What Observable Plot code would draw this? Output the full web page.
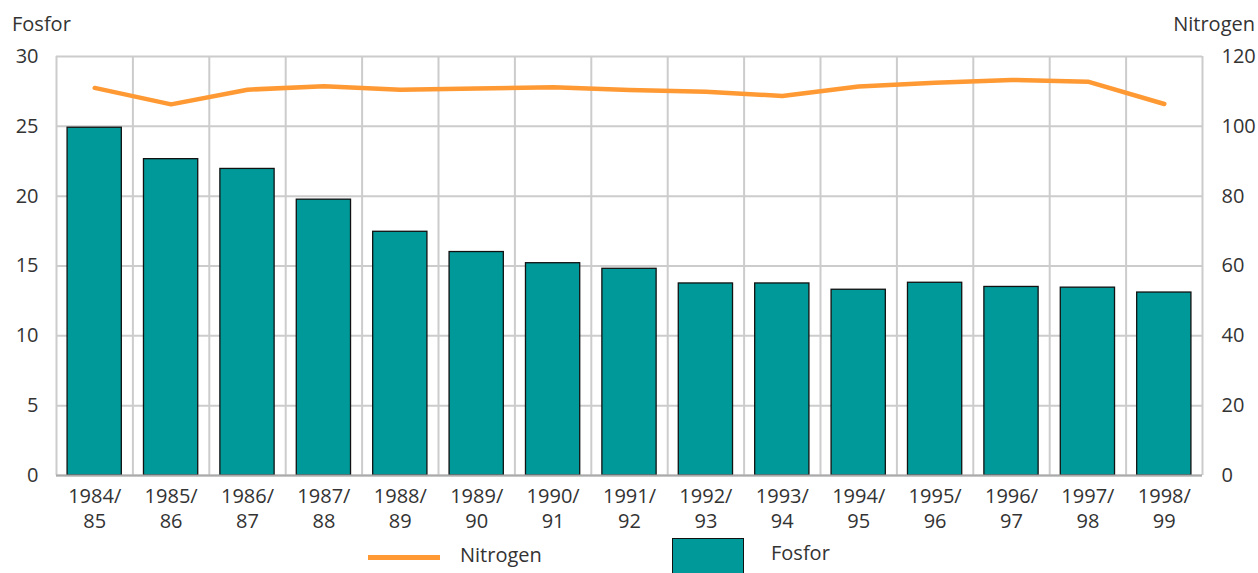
<!DOCTYPE html>
<html>
<head>
<meta charset="utf-8">
<script src="https://cdn.jsdelivr.net/npm/d3@7"></script>
<script src="https://cdn.jsdelivr.net/npm/@observablehq/plot@0.6"></script>
<style>
  html, body { margin: 0; padding: 0; background: #fff; }
  #wrap { position: relative; width: 1258px; height: 573px; overflow: hidden; font-family: "Open Sans", sans-serif; color: #333; }
  .t { position: absolute; font-size: 20px; line-height: 20px; white-space: nowrap; }
  #chart { position: absolute; left: 0; top: 0; }
  .sw-line { position: absolute; background: #FF9933; }
  .sw-box { position: absolute; background: #009999; border: 1.3px solid #111; box-sizing: border-box; }
</style>
</head>
<body>
<div id="wrap">
  <div id="chart"></div>
  <div class="t" style="left:12px; top:14px;">Fosfor</div>
  <div class="t" style="right:3px; top:14px;">Nitrogen</div>
  <div class="sw-line" style="left:368px; top:555px; width:72px; height:5px;"></div>
  <div class="t" style="left:460px; top:545px;">Nitrogen</div>
  <div class="sw-box" style="left:672px; top:538px; width:72px; height:45px;"></div>
  <div class="t" style="left:771px; top:543px;">Fosfor</div>
</div>
<script>
const categories = ["1984/\n85","1985/\n86","1986/\n87","1987/\n88","1988/\n89","1989/\n90","1990/\n91","1991/\n92","1992/\n93","1993/\n94","1994/\n95","1995/\n96","1996/\n97","1997/\n98","1998/\n99"];
const fosfor = [24.9, 22.65, 21.95, 19.75, 17.45, 16.0, 15.2, 14.8, 13.75, 13.75, 13.3, 13.8, 13.5, 13.45, 13.1];
const nitrogen = [111, 106.3, 110.5, 111.5, 110.5, 110.8, 111.2, 110.4, 109.9, 108.7, 111.4, 112.5, 113.3, 112.8, 106.4];
const leftTicks = [0, 5, 10, 15, 20, 25, 30];
const rightTicks = [0, 20, 40, 60, 80, 100, 120];

const ratio = 4; // nitrogen / fosfor axis ratio
const pad = 0.145;
const data = categories.map((c, i) => ({i, c, f: fosfor[i], n: nitrogen[i]}));

const chart = Plot.plot({
  width: 1258,
  height: 540,
  marginTop: 56,
  marginBottom: 65,
  marginLeft: 56,
  marginRight: 56,
  style: {fontFamily: "'Open Sans', sans-serif", fontSize: "20px", color: "#333", background: "transparent"},
  x: {domain: [0, categories.length]},
  y: {domain: [0, 30]},
  marks: [
    Plot.ruleY(leftTicks, {stroke: "#cccccc", strokeWidth: 2}),
    Plot.ruleX(d3.range(0, categories.length + 1), {stroke: "#cccccc", strokeWidth: 2}),
    Plot.rectY(data, {x1: d => d.i + pad, x2: d => d.i + 1 - pad, y1: 0, y2: "f", fill: "#009999", stroke: "#111", strokeWidth: 1.3}),
    Plot.ruleY([0], {stroke: "#aaaaaa", strokeWidth: 2}),
    Plot.line(data, {x: d => d.i + 0.5, y: d => d.n / ratio, stroke: "#FF9933", strokeWidth: 4.5}),
    Plot.axisX(data.map(d => d.i + 0.5), {tickFormat: d => categories[Math.floor(d)], tickSize: 0, tickPadding: 10, lineHeight: 1.25, fontSize: 20, fill: "#333", label: null}),
    Plot.axisY(leftTicks, {anchor: "left", tickSize: 0, tickPadding: 18, fontSize: 20, fill: "#333", label: null}),
    Plot.axisY(rightTicks.map(v => v / ratio), {anchor: "right", tickSize: 0, tickPadding: 19, fontSize: 20, fill: "#333", tickFormat: d => String(Math.round(d * ratio)), label: null})
  ]
});
document.getElementById("chart").appendChild(chart);
</script>
</body>
</html>
